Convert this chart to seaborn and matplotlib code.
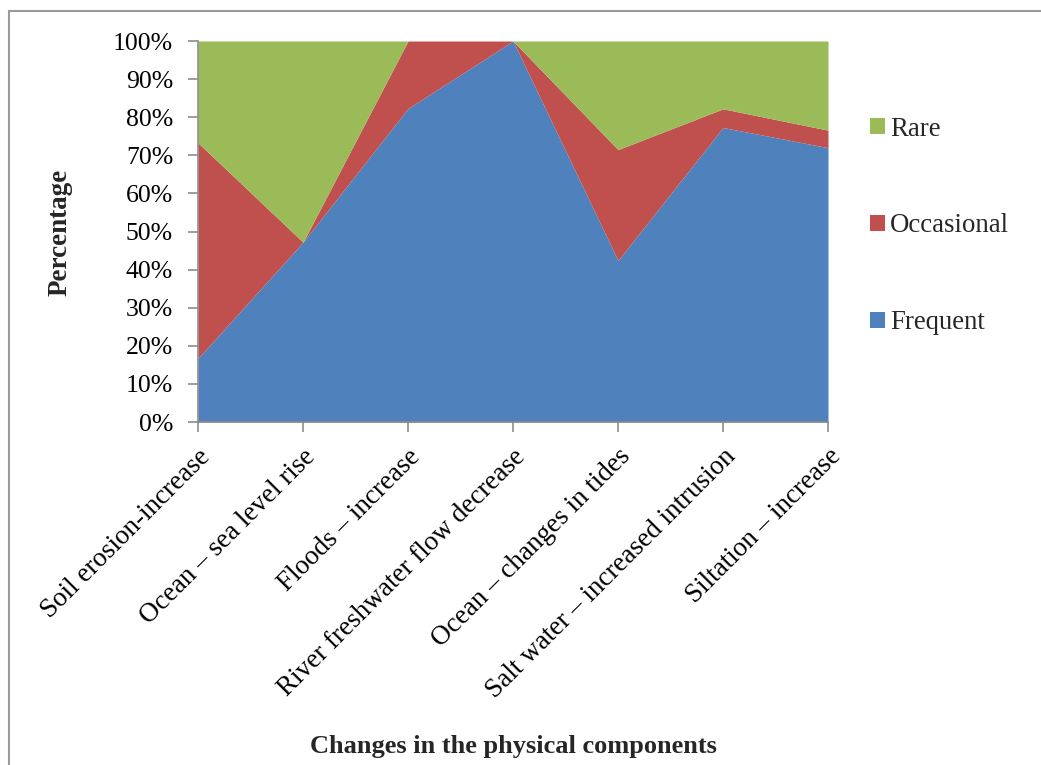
import matplotlib
matplotlib.use('Agg')
from matplotlib import pyplot as plt
from matplotlib.patches import Patch, Rectangle
from matplotlib.ticker import PercentFormatter
import seaborn as sns

categories = [
    'Soil erosion-increase',
    'Ocean – sea level rise',
    'Floods – increase',
    'River freshwater flow decrease',
    'Ocean – changes in tides',
    'Salt water – increased intrusion',
    'Siltation – increase',
]
frequent = [16.7, 47.2, 82.3, 100.0, 42.4, 77.3, 72.0]
occasional = [56.6, 0.0, 17.7, 0.0, 29.1, 4.9, 4.6]
rare = [26.7, 52.8, 0.0, 0.0, 28.5, 17.8, 23.4]
series_names = ['Frequent', 'Occasional', 'Rare']
colors = ['#4F81BD', '#C0504D', '#9BBB59']

sns.set_theme(style='white')
plt.rcParams['font.family'] = ['Liberation Serif', 'DejaVu Serif']

W, H = 1041, 765
fig = plt.figure(figsize=(W / 100, H / 100), dpi=100)
ax = fig.add_axes([198 / W, 1 - 422 / H, (828 - 198) / W, (422 - 41) / H])

x = list(range(len(categories)))
ax.stackplot(x, frequent, occasional, rare, colors=colors, linewidth=0)

ax.set_xlim(0, len(categories) - 1)
ax.set_ylim(0, 100)
ax.set_yticks(range(0, 101, 10))
ax.yaxis.set_major_formatter(PercentFormatter(decimals=0))
ax.set_xticks(x)
ax.set_xticklabels(categories, rotation=45, ha='right', rotation_mode='anchor')

sns.despine(ax=ax)
for side in ['left', 'bottom']:
    ax.spines[side].set_color('#8c8c8c')
    ax.spines[side].set_linewidth(1.2)
ax.tick_params(axis='both', which='major', direction='out', length=7, width=1.2,
               color='#8c8c8c', labelcolor='black', bottom=True, left=True)
ax.tick_params(axis='y', labelsize=18.5, pad=11)
ax.tick_params(axis='x', labelsize=19.5, pad=9)

fig.text(60 / W, 1 - 232 / H, 'Percentage', rotation=90, ha='center', va='center',
         fontsize=19.5, fontweight='bold')
fig.text(513 / W, 1 - 747 / H, 'Changes in the physical components', ha='center',
         va='center', fontsize=19, fontweight='bold')

handles = [Patch(facecolor=c, edgecolor='none') for c in colors][::-1]
labels = series_names[::-1]
fig.legend(handles, labels, loc='center left', bbox_to_anchor=(870 / W, 1 - 226 / H),
           frameon=False, fontsize=19.3, labelspacing=2.68, handlelength=0.55,
           handleheight=0.55, handletextpad=0.2, borderpad=0, borderaxespad=0)

fig.patches.append(Rectangle((9 / W, -0.05), 1.2, 1 - 11 / H + 0.05, transform=fig.transFigure,
                             fill=False, edgecolor='#9a9a9a', linewidth=1.5))

fig.savefig('out.png', dpi=100)
